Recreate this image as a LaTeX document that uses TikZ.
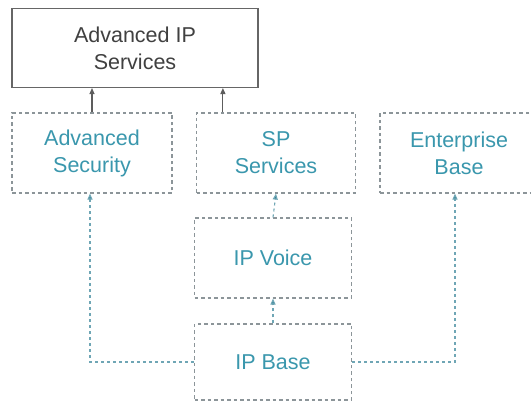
\documentclass[tikz,border=0pt]{standalone}
\usepackage{fontspec}
\setmainfont{Liberation Sans}
\usetikzlibrary{arrows.meta,calc}
\definecolor{tealtxt}{HTML}{3A97AD}
\definecolor{boxgray}{HTML}{8C9599}
\definecolor{darktxt}{HTML}{404040}
\definecolor{linkteal}{HTML}{6FA6B5}
\tikzset{
  x=1pt,y=1pt,
  solidbox/.style={draw=darktxt!80, line width=1.1pt, align=center, font=\fontsize{21.5}{27}\selectfont, text=darktxt, inner sep=0pt},
  featbox/.style={draw=boxgray, line width=1.2pt, dash pattern=on 3.5pt off 3pt, align=center, font=\fontsize{21.5}{27}\selectfont, text=tealtxt, inner sep=0pt},
  uplink/.style={draw=darktxt!85, line width=1.1pt, -{Triangle[length=6pt,width=5pt]}},
  featlink/.style={draw=linkteal, line width=1.1pt, dash pattern=on 3pt off 3pt, -{Triangle[length=6pt,width=5pt,fill=tealtxt!85!black]}},
}
\begin{document}
\begin{tikzpicture}
\useasboundingbox (0,0) rectangle (531,403);
\fill[white] (0,0) rectangle (531,403);

% top-level package
\node[solidbox, minimum width=246pt, minimum height=79pt] (aips) at (135,355) {Advanced IP\\Services};

% feature sets
\node[featbox, minimum width=160pt, minimum height=80pt] (advsec) at (92,250) {Advanced\\Security};
\node[featbox, minimum width=159pt, minimum height=80pt] (sp) at (276,250) {SP\\Services};
\node[featbox, minimum width=158pt, minimum height=80pt] (ent) at (459,250) {Enterprise\\Base};
\node[featbox, minimum width=157pt, minimum height=80pt] (voice) at (273,145) {IP Voice};
\node[featbox, minimum width=157pt, minimum height=76pt] (base) at (273,41) {IP Base};

% links into Advanced IP Services
\draw[uplink] (advsec.north) -- (advsec.north |- aips.south);
\draw[uplink] ([xshift=27pt]sp.north west) -- ([xshift=27pt]sp.north west |- aips.south);

% links up from IP Base
\draw[featlink] (voice.north) -- (sp.south);
\draw[featlink] (base.north) -- (voice.south);
\draw[featlink] (base.west) -| ([xshift=-2pt]advsec.south);
\draw[featlink] (base.east) -| ([xshift=-4pt]ent.south);
\end{tikzpicture}
\end{document}
